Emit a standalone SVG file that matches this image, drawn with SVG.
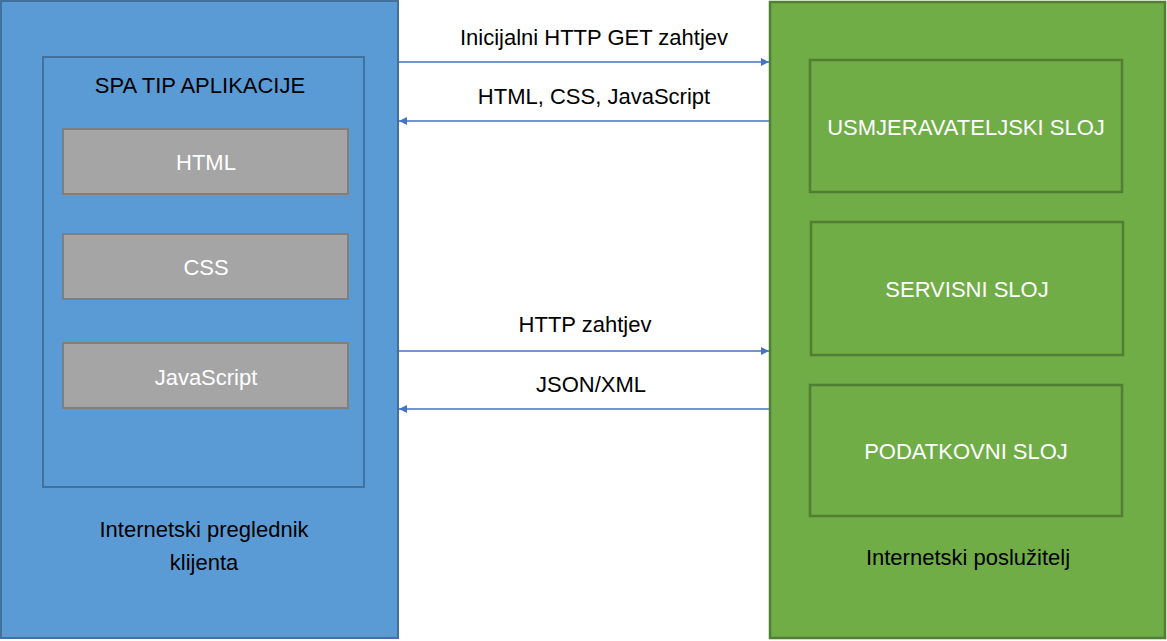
<svg xmlns="http://www.w3.org/2000/svg" width="1167" height="641" viewBox="0 0 1167 641">
<style>
text{font-family:"Liberation Sans",Arial,sans-serif;font-size:22px;text-anchor:middle}
.dk{fill:#000}
.wt{fill:#fff}
.blue{fill:#5b9bd5;stroke:#41719c;stroke-width:2}
.green{fill:#70ad47;stroke:#507e32;stroke-width:2.5}
.gray{fill:#a5a5a5;stroke:#7f7f7f;stroke-width:2}
.conn{stroke:#4472c4;stroke-width:1.3;fill:none}
</style>
<defs>
<marker id="ah" viewBox="0 0 10 10" refX="10" refY="5" markerWidth="8" markerHeight="8" markerUnits="userSpaceOnUse" orient="auto">
<path d="M0,0 L10,5 L0,10 Z" fill="#4472c4"/>
</marker>
</defs>
<g id="client">
<rect class="blue" x="1" y="1" width="397" height="637"/>
<text class="dk" x="204" y="537">Internetski preglednik</text>
<text class="dk" x="204" y="570">klijenta</text>
</g>
<g id="spa">
<rect class="blue" x="43" y="57" width="321" height="430"/>
<text class="dk" x="200" y="93">SPA TIP APLIKACIJE</text>
</g>
<g id="html">
<rect class="gray" x="63" y="129" width="285" height="65"/>
<text class="wt" x="206" y="170">HTML</text>
</g>
<g id="css">
<rect class="gray" x="63" y="234" width="285" height="65"/>
<text class="wt" x="206" y="275">CSS</text>
</g>
<g id="js">
<rect class="gray" x="63" y="343" width="285" height="65"/>
<text class="wt" x="206" y="385">JavaScript</text>
</g>
<g id="server">
<rect class="green" x="770" y="2" width="395" height="636"/>
<text class="dk" x="968" y="565">Internetski poslužitelj</text>
</g>
<g id="routing">
<rect class="green" x="810" y="60" width="312" height="132"/>
<text class="wt" x="966" y="135">USMJERAVATELJSKI SLOJ</text>
</g>
<g id="service">
<rect class="green" x="811" y="222" width="312" height="133"/>
<text class="wt" x="967" y="297">SERVISNI SLOJ</text>
</g>
<g id="data">
<rect class="green" x="810" y="385" width="312" height="131"/>
<text class="wt" x="966" y="459">PODATKOVNI SLOJ</text>
</g>
<g id="connectors">
<line class="conn" x1="399" y1="62" x2="769" y2="62" marker-end="url(#ah)"/>
<text class="dk" x="594" y="45">Inicijalni HTTP GET zahtjev</text>
<line class="conn" x1="769" y1="121" x2="399" y2="121" marker-end="url(#ah)"/>
<text class="dk" x="594" y="104">HTML, CSS, JavaScript</text>
<line class="conn" x1="399" y1="351" x2="769" y2="351" marker-end="url(#ah)"/>
<text class="dk" x="585" y="332">HTTP zahtjev</text>
<line class="conn" x1="769" y1="409" x2="399" y2="409" marker-end="url(#ah)"/>
<text class="dk" x="591" y="392">JSON/XML</text>
</g>
</svg>
